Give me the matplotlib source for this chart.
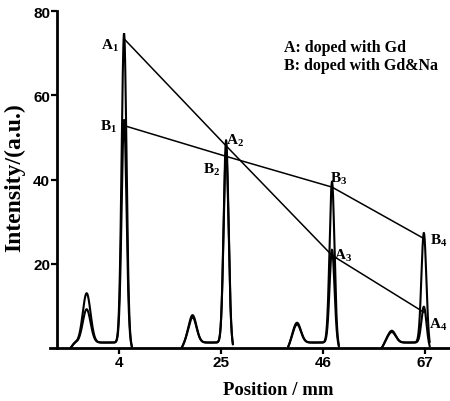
import numpy as np
import matplotlib
matplotlib.use('Agg')
import matplotlib.pyplot as plt

plt.rcParams['mathtext.fontset'] = 'custom'
plt.rcParams['mathtext.rm'] = 'Liberation Serif:bold'
plt.rcParams['mathtext.it'] = 'Liberation Serif:bold'
plt.rcParams['mathtext.bf'] = 'Liberation Serif:bold'

# ---- data ----
tick_positions = [4, 25, 46, 67]
tick_labels = ['4', '25', '46', '67']
y_ticks = [20, 40, 60, 80]
peak_pos = [5.0, 26.0, 47.8, 66.7]          # main peak centres
A_heights = [73.4, 48.0, 22.0, 8.5]         # doped with Gd
B_heights = [52.8, 45.5, 38.2, 26.0]        # doped with Gd&Na
small_pos = [-2.7, 19.1, 40.6, 60.1]        # minor peak centres
small_A = [11.7, 6.5, 4.7, 2.8]
small_B = [7.9, 6.0, 4.3, 2.5]
seg_start = [-6.0, 16.9, 38.8, 58.1]
seg_end = [6.6, 27.4, 49.2, 67.9]
baseline_level = 1.3
main_sigma = 0.5
small_sigma = 0.8
A_labels = ['A$_1$', 'A$_2$', 'A$_3$', 'A$_4$']
B_labels = ['B$_1$', 'B$_2$', 'B$_3$', 'B$_4$']
legend_lines = ['A: doped with Gd', 'B: doped with Gd&Na']

# label offsets in points (dx, dy, ha)
A_off = [(-3.6, -4.3, 'right'), (0.0, 4.3, 'left'), (1.5, 0.0, 'left'), (3.6, -8.6, 'left')]
B_off = [(-5.0, 0.0, 'right'), (-4.3, -9.4, 'right'), (-1.4, 6.5, 'left'), (4.3, -1.4, 'left')]

fig = plt.figure(figsize=(4.5, 4.02), dpi=100)
ax = fig.add_axes([0.1267, 0.1318, 0.8713, 0.8383])


def gauss(x, c, h, s):
    return h * np.exp(-0.5 * ((x - c) / s) ** 2)


for i in range(len(peak_pos)):
    x = np.linspace(seg_start[i], seg_end[i], 800)
    tl = np.clip((x - seg_start[i]) / 1.2, 0, 1)
    tr = np.clip((seg_end[i] - x) / 1.0, 0, 1)
    taper = np.sin(0.5 * np.pi * np.minimum(tl, tr))
    for mh, sh in ((A_heights[i], small_A[i]), (B_heights[i], small_B[i])):
        y = (baseline_level * taper + gauss(x, small_pos[i], sh, small_sigma)
             + gauss(x, peak_pos[i], mh, main_sigma))
        ax.plot(x, y, color='black', lw=1.5, solid_joinstyle='miter')

ax.plot(peak_pos, A_heights, color='black', lw=1.1)
ax.plot(peak_pos, B_heights, color='black', lw=1.1)

lab_font = dict(fontsize=11, fontfamily='Liberation Serif', fontweight='bold')
for i in range(len(peak_pos)):
    dx, dy, ha = A_off[i]
    ax.annotate(A_labels[i], (peak_pos[i], A_heights[i]), xytext=(dx, dy),
                textcoords='offset points', ha=ha, va='center', **lab_font)
    dx, dy, ha = B_off[i]
    ax.annotate(B_labels[i], (peak_pos[i], B_heights[i]), xytext=(dx, dy),
                textcoords='offset points', ha=ha, va='center', **lab_font)

leg_font = dict(fontsize=11.5, fontfamily='Liberation Serif', fontweight='bold')
ax.text(0.580, 0.893, legend_lines[0], transform=ax.transAxes, ha='left', va='center', **leg_font)
ax.text(0.580, 0.841, legend_lines[1], transform=ax.transAxes, ha='left', va='center', **leg_font)

ax.set_xlim(-8.8, 71.9)
ax.set_ylim(0, 80)
ax.set_xticks(tick_positions)
ax.set_xticklabels(tick_labels)
ax.set_yticks(y_ticks)
for s in ('top', 'right'):
    ax.spines[s].set_visible(False)
ax.spines['left'].set_linewidth(2.0)
ax.spines['bottom'].set_linewidth(2.0)
ax.spines['bottom'].set_bounds(-10.3, 71.9)
ax.tick_params(axis='both', length=4, width=1.6, pad=1, labelsize=11)
for lab in ax.get_xticklabels() + ax.get_yticklabels():
    lab.set_fontfamily('Liberation Sans')
    lab.set_fontweight('bold')

ax.set_xlabel('Position / mm', fontsize=13.5, fontfamily='Liberation Serif', fontweight='bold')
ax.xaxis.set_label_coords(0.565, -0.122)
ax.xaxis.label.set_va('center')
ax.set_ylabel('Intensity/(a.u.)', fontsize=17, fontfamily='Liberation Serif', fontweight='bold')
ax.yaxis.set_label_coords(-0.109, 0.51)
ax.yaxis.label.set_va('center')

fig.savefig('out.png', dpi=100)
